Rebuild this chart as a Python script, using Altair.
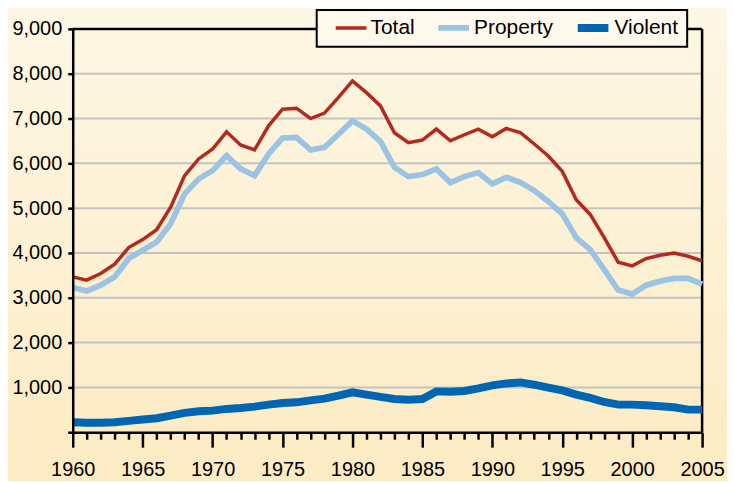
import altair as alt
import pandas as pd

years = list(range(1960, 2006))
total = [3467, 3393, 3542, 3749, 4120, 4298, 4520, 5022, 5727, 6098,
         6320, 6704, 6409, 6298, 6838, 7209, 7231, 7000, 7120, 7470,
         7838, 7578, 7282, 6682, 6460, 6520, 6764, 6504, 6638, 6764,
         6593, 6778, 6689, 6431, 6164, 5822, 5187, 4860, 4342, 3793,
         3712, 3875, 3949, 4000, 3927, 3822]
property_ = [3231, 3149, 3282, 3467, 3876, 4060, 4244, 4653, 5320, 5653,
             5838, 6171, 5876, 5727, 6209, 6564, 6578, 6298, 6356, 6650,
             6949, 6764, 6489, 5911, 5704, 5749, 5876, 5571, 5704, 5793,
             5542, 5689, 5578, 5393, 5150, 4874, 4342, 4075, 3630, 3171,
             3082, 3282, 3371, 3431, 3431, 3304]
violent = [222, 209, 209, 222, 253, 282, 311, 371, 431, 467,
           482, 520, 542, 571, 616, 653, 667, 711, 749, 816,
           889, 838, 790, 742, 727, 742, 911, 904, 920, 978,
           1045, 1089, 1111, 1060, 993, 933, 838, 764, 675, 616,
           616, 600, 578, 556, 504, 504]

series_names = ["Total", "Property", "Violent"]
series_colors = ["#b5281f", "#9bc4e4", "#0066b3"]
series_widths = [3.5, 8, 7]
y_ticks = list(range(0, 10000, 1000))

rows = []
for name, vals in zip(series_names, [total, property_, violent]):
    for yr, v in zip(years, vals):
        rows.append({"year": yr, "value": v, "series": name})
df = pd.DataFrame(rows)

W, H = 632, 405
FONT = "Liberation Sans"

xscale = alt.Scale(domain=[1960, 2005], nice=False, zero=False)
yscale = alt.Scale(domain=[0, 9000], nice=False)

xaxis = alt.Axis(values=years, format="d", title=None,
                 labelExpr="datum.value % 5 === 0 ? datum.label : ''",
                 tickSize={"condition": {"test": "datum.value % 5 === 0", "value": 15}, "value": 7},
                 labelFontSize=20, labelFont=FONT, labelColor="black",
                 labelPadding=12, labelOverlap=False, labelFlush=False,
                 domainColor="black", domainWidth=2.5,
                 tickColor="black", tickWidth=2.5, grid=False, zindex=1)
yaxis = alt.Axis(values=y_ticks, format=",d", title=None,
                 labelExpr="datum.value === 0 ? '' : datum.label",
                 tickSize=5, labelPadding=6,
                 labelFontSize=20, labelFont=FONT, labelColor="black",
                 domainColor="black", domainWidth=2.5,
                 tickColor="black", tickWidth=2.5, grid=False, zindex=1)

bg = alt.Chart(pd.DataFrame({"k": [0]})).mark_rect(
    fill=alt.Gradient(
        gradient="linear", x1=0, x2=0, y1=0, y2=1,
        stops=[alt.GradientStop(color="#fef7e5", offset=0),
               alt.GradientStop(color="#fcebc2", offset=1)],
    )
).encode(x=alt.value(-70), x2=alt.value(W + 40), y=alt.value(-30), y2=alt.value(H + 60))

grid = alt.Chart(pd.DataFrame({"v": y_ticks[1:-1]})).mark_rule(
    color="#c3c3c3", strokeWidth=2
).encode(y=alt.Y("v:Q", scale=yscale, axis=yaxis))

top_border = alt.Chart(pd.DataFrame({"v": [y_ticks[-1]]})).mark_rule(
    color="black", strokeWidth=2.5
).encode(y=alt.Y("v:Q", scale=yscale, axis=yaxis))

right_border = alt.Chart(pd.DataFrame({"yr": [years[-1]]})).mark_rule(
    color="black", strokeWidth=2.5
).encode(x=alt.X("yr:Q", scale=xscale, axis=xaxis))

legend = alt.Legend(
    title=None, orient="none", legendX=245, legendY=-19, direction="horizontal",
    symbolType="stroke", symbolSize=950, labelFontSize=21, labelFont=FONT,
    labelColor="black", fillColor="#fef9ec", strokeColor="black",
    padding=9, columnPadding=12, labelOffset=2, symbolOffset=8, clipHeight=18,
)

lines = alt.Chart(df).mark_line().encode(
    x=alt.X("year:Q", scale=xscale, axis=xaxis),
    y=alt.Y("value:Q", scale=yscale, axis=yaxis),
    color=alt.Color("series:N", scale=alt.Scale(domain=series_names, range=series_colors), legend=legend),
    strokeWidth=alt.StrokeWidth("series:N", scale=alt.Scale(domain=series_names, range=series_widths), legend=legend),
)

chart = alt.layer(bg, grid, top_border, right_border, lines).properties(
    width=W, height=H,
    autosize=alt.AutoSizeParams(type="none"),
    padding={"left": 65, "top": 20, "right": 25, "bottom": 48},
    background="#fef7e5",
).configure_view(stroke=None).configure_legend(strokeWidth=2)

chart.save("out.html", embed_options={"renderer": "svg", "actions": False})
